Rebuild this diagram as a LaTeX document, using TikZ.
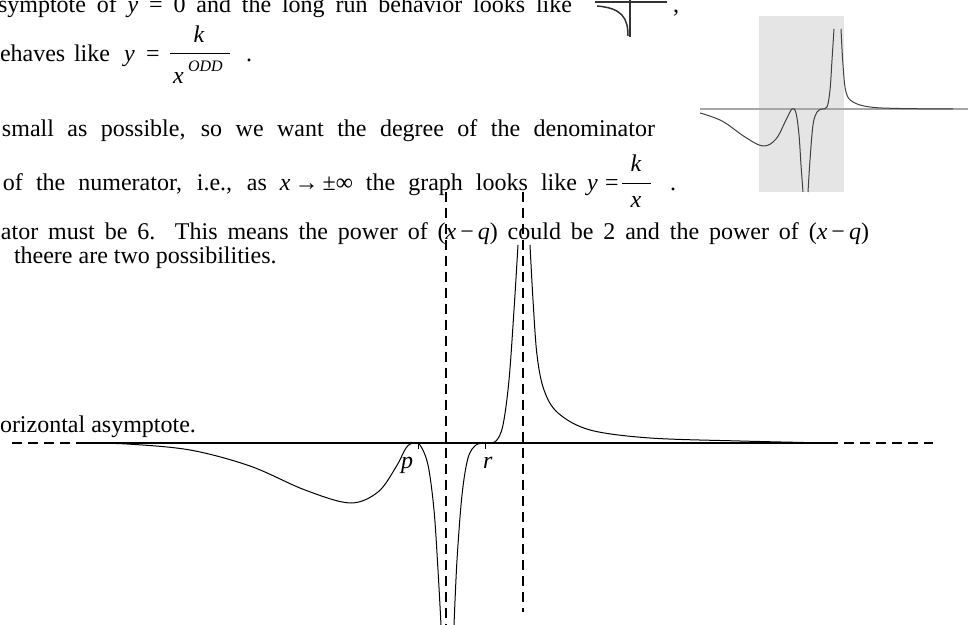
\documentclass[tikz,border=0pt]{standalone}
\usepackage{fontspec}
\setmainfont{Liberation Serif}
\newcommand{\jl}[2]{\makebox[#1][s]{#2}}
\begin{document}
\begin{tikzpicture}[x=0.5pt,y=-0.5pt,
  txt/.style={inner sep=0pt, outer sep=0pt, anchor=base west, font=\fontsize{12}{14}\selectfont},
  txc/.style={txt, anchor=base},
  sup/.style={txt, font=\fontsize{8}{9}\selectfont\itshape},
  asym/.style={dash pattern=on 5pt off 3pt, line width=0.9pt},
  crv/.style={line width=0.5pt, line join=round},
  icn/.style={line width=0.75pt, draw=black!80},
  incrv/.style={line width=0.5pt, draw=black!75},
  fbar/.style={line width=0.5pt}]
\useasboundingbox (0,0) rectangle (969,625);
\clip (0,0) rectangle (969,625);
% ---------- text lines ----------
\node[txt] (l1) at (-2,13) {\jl{287pt}{symptote of \textit{y} = 0 and the long run behavior looks like}};
\node[txt] (l1c) at (673,13) {,};
\node[txt] (l2) at (0,62) {\jl{55pt}{ehaves like}};
\node[txt] (l2y) at (124,62) {\textit{y}};
\node[txt] (l2eq) at (146,62) {=};
\coordinate (b2a) at (170,54); \coordinate (b2b) at (230,54);
\draw[fbar] (b2a) -- (b2b);
\node[txc] (l2k) at (199,43) {\textit{k}};
\node[txt] (l2x) at (173,84) {\textit{x}};
\node[sup] (l2s) at (188,72) {ODD};
\node[txt] (l2p) at (246,62) {.};
\node[txt] (l3) at (2,137) {\jl{326.5pt}{small as possible, so we want the degree of the denominator}};
\node[txt] (l4) at (3,191) {\jl{287pt}{of the numerator, i.e., as \textit{x}\,→\,±∞ the graph looks like}};
\node[txt] (l4y) at (587,191) {\textit{y}};
\node[txt] (l4eq) at (605,191) {=};
\coordinate (b4a) at (622,184); \coordinate (b4b) at (651,184);
\draw[fbar] (b4a) -- (b4b);
\node[txc] (l4k) at (636,172) {\textit{k}};
\node[txc] (l4x) at (636,208) {\textit{x}};
\node[txt] (l4p) at (670,191) {.};
\node[txt] (l5) at (1,240) {\jl{434pt}{ator must be 6. This means the power of (\textit{x}\,−\,\textit{q}) could be 2 and the power of (\textit{x}\,−\,\textit{q})}};
\node[txt] (l6) at (14,264) {theere are two possibilities.};
\node[txt] (l7) at (0,433) {orizontal asymptote.};
% ---------- small icon ----------
\coordinate (ia) at (595,2); \coordinate (ib) at (667,2);
\coordinate (ic) at (630,-2); \coordinate (id) at (630,37);
\draw[icn] (ia) -- (ib);
\draw[icn] (ic) -- (id);
\draw[icn] (597,6) .. controls (622,8) and (628,18) .. (628,36);
% ---------- inset ----------
\fill[black!10] (759,16) rectangle (844,192);
\draw[line width=0.75pt, black!35] (700,109) -- (968,109);
\draw[incrv] plot[smooth, tension=0.6] coordinates {(700,113) (722,121) (745,137) (763,146) (776,139) (786,120) (792,109) (796,113) (799,135) (801,165) (803,192)};
\draw[incrv] plot[smooth, tension=0.6] coordinates {(808,192) (810,160) (813,125) (817,112) (822,109) (827,107) (830,90) (832,60) (834,29)};
\draw[incrv] plot[smooth, tension=0.6] coordinates {(841,29) (843,65) (846,92) (853,102) (870,107) (900,108.5) (953,109)};
% ---------- main graph ----------
\coordinate (al) at (80,443); \coordinate (ar) at (828,443);
\draw[line width=0.6pt] (al) -- (ar);
\coordinate (hl) at (12,443); \coordinate (hr) at (933,443);
\draw[asym] (hl) -- (hr);
\coordinate (q1) at (446,192); \coordinate (q2) at (446,625);
\coordinate (s1) at (523,192); \coordinate (s2) at (523,612);
\draw[asym] (q1) -- (q2);
\draw[asym] (s1) -- (s2);
\draw[crv] plot[smooth, tension=0.55] coordinates {(80,443) (127,444) (190,450) (250,466) (305,490) (350,503) (378,492) (396,467) (406,448) (413,443) (420,445) (428,465) (434,510) (438,570) (441,625)};
\draw[crv] plot[smooth, tension=0.55] coordinates {(454,625) (457,560) (462,495) (468,458) (476,445) (486,443) (496,441) (503,425) (509,380) (514,310) (518,245)};
\draw[crv] plot[smooth, tension=0.55] coordinates {(530,245) (533,300) (537,355) (544,390) (558,413) (590,430) (650,438) (740,441) (828,443)};
\draw[crv] (418,443) -- (418,449);
\draw[crv] (485,443) -- (485,449);
\node[txt] (pl) at (401,468) {\textit{p}};
\node[txt] (rl) at (483,468) {\textit{r}};
\end{tikzpicture}
\end{document}
